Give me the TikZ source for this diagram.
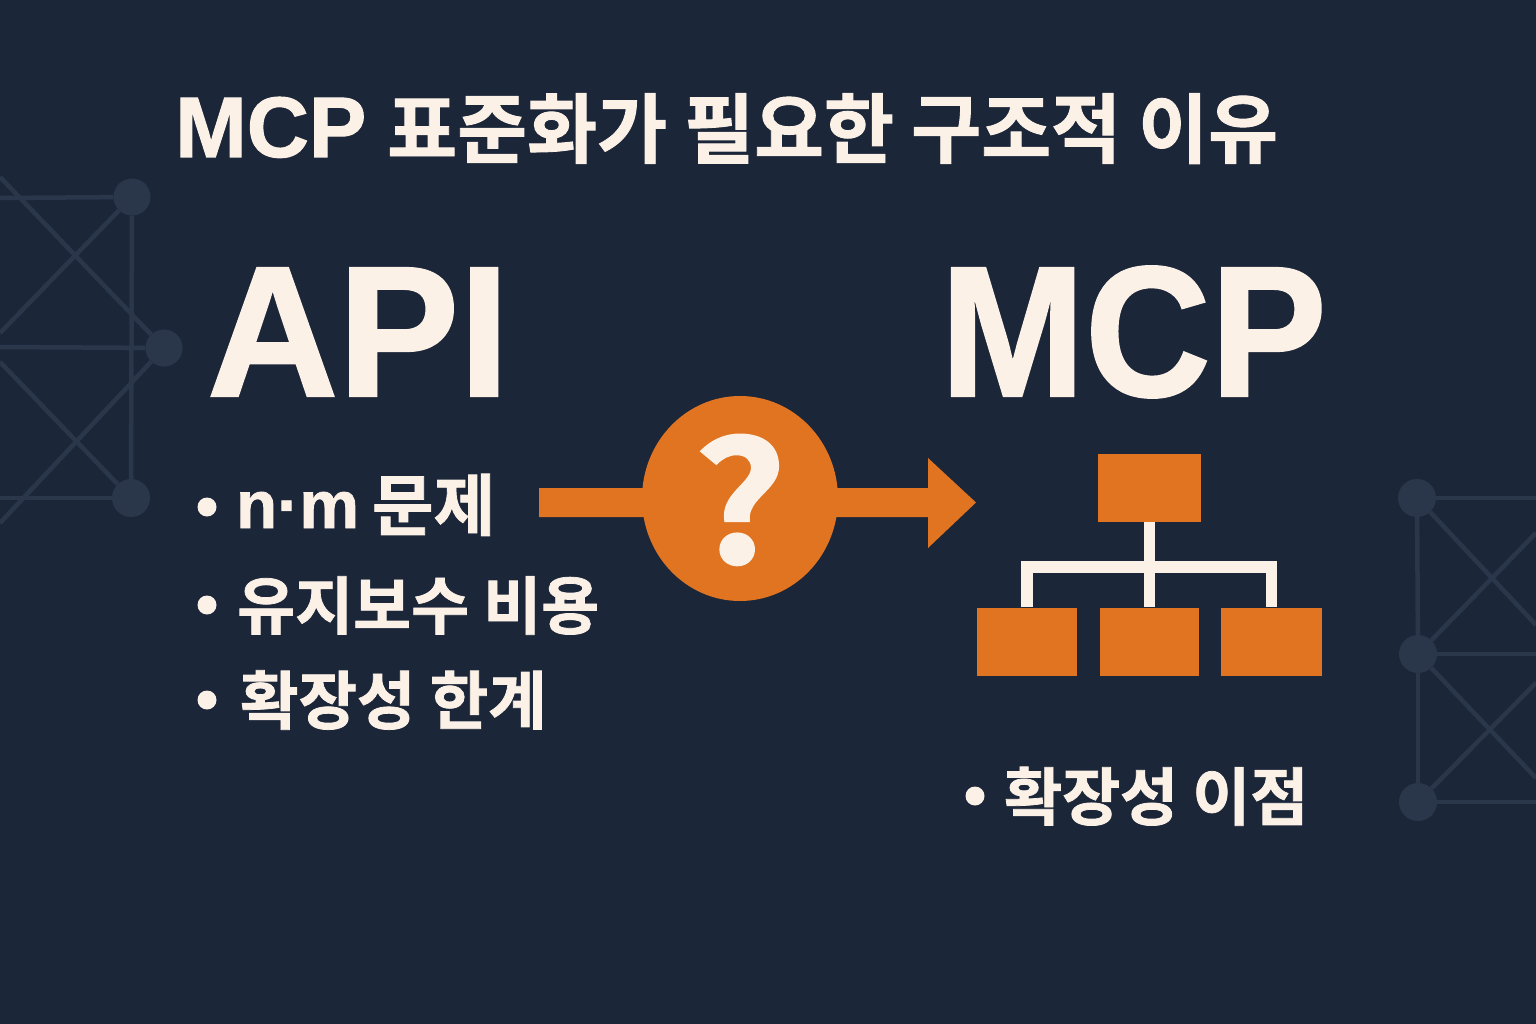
\documentclass[tikz,border=0pt]{standalone}
\usepackage{fontspec}
\setmainfont{Noto Sans CJK KR}[BoldFont={Noto Sans CJK KR Bold},BoldFeatures={FakeBold=1.2}]
\newfontfamily\latinbig{Liberation Sans}[BoldFont={Liberation Sans Bold},BoldFeatures={FakeBold=1.2}]
\usetikzlibrary{calc,shapes.geometric}
\definecolor{bgnavy}{HTML}{1B2639}
\definecolor{netblue}{HTML}{2A374B}
\definecolor{cream}{HTML}{FBF1E7}
\definecolor{accent}{HTML}{E17421}
\tikzset{
  netnode/.style={circle,fill=netblue,minimum size=#1,inner sep=0pt},
  netline/.style={draw=netblue,line width=4.5pt},
  txt/.style={text=cream,font=\bfseries,anchor=base west,inner sep=0pt},
  orgbox/.style={fill=accent,minimum width=#1,minimum height=68pt,inner sep=0pt},
  orgline/.style={draw=cream,line width=11.5pt},
  dot/.style={circle,fill=cream,minimum size=19pt,inner sep=0pt},
}
\begin{document}
\begin{tikzpicture}[x=1pt,y=-1pt]
\fill[bgnavy] (0,0) rectangle (1536,1024);
\useasboundingbox (0,0) rectangle (1536,1024);
% left network
\coordinate (la) at (0,198); \coordinate (lb) at (0,347); \coordinate (lc) at (0,498);
\coordinate (ld) at (0,177); \coordinate (le) at (0,333); \coordinate (lf) at (0,523); \coordinate (lg) at (0,362);
\node[netnode=37pt] (l1) at (132,197) {};
\node[netnode=37pt] (l2) at (164,348) {};
\node[netnode=38pt] (l3) at (131,498) {};
\draw[netline] (la) -- (l1); \draw[netline] (lb) -- (l2); \draw[netline] (lc) -- (l3);
\draw[netline] (l1) -- (l3);
\draw[netline] (ld) -- (l2); \draw[netline] (le) -- (l1);
\draw[netline] (lf) -- (l2); \draw[netline] (lg) -- (l3);
% right network
\coordinate (ra) at (1536,498); \coordinate (rb) at (1536,654); \coordinate (rc) at (1536,802);
\coordinate (rd) at (1536,625); \coordinate (re) at (1536,533); \coordinate (rf) at (1536,778); \coordinate (rg) at (1536,683);
\node[netnode=38pt] (r1) at (1417,498) {};
\node[netnode=38pt] (r2) at (1418,654) {};
\node[netnode=38pt] (r3) at (1418,802) {};
\draw[netline] (ra) -- (r1); \draw[netline] (rb) -- (r2); \draw[netline] (rc) -- (r3);
\draw[netline] (r1) -- (r2); \draw[netline] (r2) -- (r3);
\draw[netline] (rd) -- (r1); \draw[netline] (re) -- (r2);
\draw[netline] (rf) -- (r2); \draw[netline] (rg) -- (r3);
% title
\node[txt,font=\fontsize{76}{80}\bfseries] (title) at (175,157) {{\fontsize{86}{90}\latinbig\bfseries MCP}\hspace{21pt}표준화가 필요한 구조적 이유};
\node[txt,font=\fontsize{186}{190}\latinbig\bfseries,xscale=.975] (api) at (207,396) {API};
\node[txt,font=\fontsize{186}{190}\latinbig\bfseries,xscale=.935] (mcp) at (940,396) {MCP};
% bullets
\node[dot] (b1) at (207,507) {}; \node[txt,font=\fontsize{67}{70}\bfseries] (t1) at (236,528) {{\fontsize{67}{70}\latinbig\bfseries n·m}\hspace{13pt}\raisebox{-2pt}{문제}};
\node[dot] (b2) at (207,605) {}; \node[txt,font=\fontsize{63}{66}\bfseries] (t2) at (237,629) {유지보수 비용};
\node[dot] (b3) at (207,700) {}; \node[txt,font=\fontsize{63.5}{66}\bfseries] (t3) at (240,724) {확장성 한계};
\node[dot] (b4) at (975,796) {}; \node[txt,font=\fontsize{63}{66}\bfseries] (t4) at (1004,820) {확장성 이점};
% arrow
\coordinate (atip) at (976,502.5);
\fill[accent] (539,488) -- (928,488) -- (928,458) -- (atip) -- (928,548) -- (928,517) -- (539,517) -- cycle;
\node[ellipse,fill=accent,minimum width=196pt,minimum height=205pt,inner sep=0pt] (q) at (740,498.5) {};
\node[text=cream,font=\fontsize{166}{166}\bfseries,inner sep=0pt,anchor=base,xscale=1.1] (qm) at (740,563) {?};
% org chart
\node[orgbox=103pt] (top) at (1149.5,488) {};
\node[orgbox=100pt] (c1) at (1027,641.5) {};
\node[orgbox=99pt] (c2) at (1149.5,641.5) {};
\node[orgbox=101pt] (c3) at (1271.5,641.5) {};
\coordinate (bus) at (1149.5,567);
\draw[orgline] (top.south) -- (c2.north);
\draw[orgline] (c1.north) |- (bus) -| (c3.north);
\end{tikzpicture}
\end{document}
